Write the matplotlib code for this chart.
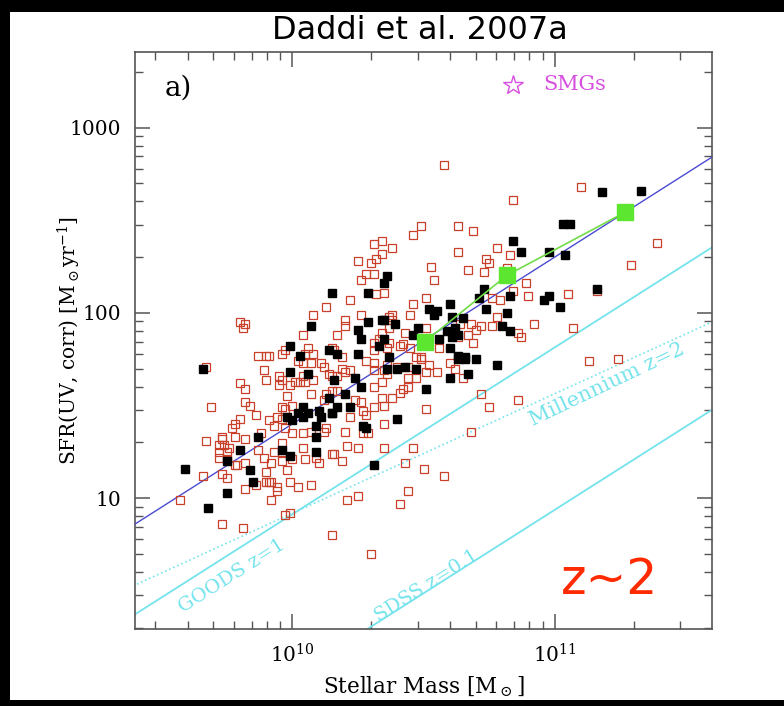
import numpy as np
import matplotlib
matplotlib.use("Agg")
import matplotlib.pyplot as plt
from matplotlib.patches import Rectangle
from matplotlib.ticker import NullFormatter, FixedLocator, FixedFormatter

plt.rcParams['font.family'] = 'DejaVu Serif'
plt.rcParams['mathtext.fontset'] = 'dejavuserif'

# log10 stellar mass [Msun] / log10 SFR [Msun/yr]
logm_red = [10.58, 11.10, 10.84, 10.49, 10.46, 10.63, 10.69, 10.34, 10.31, 10.38,
            10.34, 10.32, 10.30, 10.25, 10.63, 10.78, 10.83, 10.74, 10.75, 11.39,
            10.53, 10.54, 10.67, 10.73, 10.82, 11.29, 10.28, 10.31, 10.26, 10.89,
            9.80, 9.82, 9.81, 10.32, 10.35, 10.22, 10.51, 10.46, 10.76, 10.84,
            10.90, 10.79, 11.05, 11.16, 10.13, 10.08, 10.04, 9.97, 9.96, 10.06,
            10.08, 10.05, 9.87, 9.90, 9.91, 10.15, 10.45, 10.38, 10.38, 10.37,
            10.26, 10.20, 10.20, 10.37, 10.51, 10.43, 10.17, 10.34, 10.33, 10.31,
            10.31, 10.37, 10.36, 10.42, 10.45, 10.41, 10.64, 10.68, 10.70, 10.72,
            10.76, 10.67, 10.69, 10.63, 10.56, 10.19, 10.16, 10.47, 10.49, 10.78,
            10.92, 10.86, 10.87, 11.07, 11.13, 11.24, 9.67, 9.89, 9.90, 9.80,
            9.82, 9.95, 9.96, 9.95, 9.99, 10.01, 10.03, 10.05, 10.04, 10.08,
            10.02, 10.04, 10.07, 10.11, 10.12, 10.14, 10.15, 9.69, 9.82, 9.84,
            9.86, 9.98, 10.07, 10.12, 10.13, 9.96, 9.97, 10.00, 9.94, 9.91,
            9.96, 9.93, 9.80, 9.78, 9.77, 9.97, 10.00, 10.04, 10.07, 10.12,
            10.13, 10.19, 10.22, 10.20, 10.17, 10.28, 10.31, 10.31, 10.34, 10.31,
            10.35, 10.36, 10.36, 10.40, 10.44, 10.49, 10.52, 10.55, 10.51, 10.47,
            10.44, 10.42, 10.44, 10.41, 10.38, 10.34, 10.35, 10.31, 10.26, 10.27,
            10.28, 10.24, 10.17, 10.22, 10.15, 10.60, 10.62, 10.65, 10.72, 10.75,
            10.86, 10.51, 10.68, 10.35, 10.27, 10.29, 10.20, 10.21, 10.25, 10.16,
            10.19, 10.46, 10.35, 10.43, 10.50, 10.58, 10.44, 10.41, 10.21, 10.25,
            10.15, 10.30, 9.67, 9.73, 9.72, 9.73, 9.74, 9.76, 9.75, 9.72,
            9.78, 9.82, 9.88, 9.87, 9.96, 9.96, 9.93, 9.89, 9.92, 9.96,
            10.00, 10.05, 10.04, 10.09, 10.10, 10.15, 9.72, 9.75, 9.78, 9.79,
            9.82, 9.73, 9.75, 9.90, 9.90, 9.91, 9.92, 9.98, 9.99, 10.02,
            10.07, 9.94, 9.94, 9.82, 9.86, 9.66, 9.57, 9.92, 9.97, 9.99,
            9.73, 9.81]
logsfr_red = [2.80, 2.68, 2.61, 2.47, 2.42, 2.47, 2.44, 2.39, 2.37, 2.35,
              2.32, 2.29, 2.27, 2.28, 2.33, 2.35, 2.31, 2.29, 2.27, 2.38,
              2.25, 2.18, 2.23, 2.22, 2.24, 2.26, 2.21, 2.21, 2.18, 2.16,
              1.95, 1.94, 1.92, 2.10, 2.11, 2.07, 2.08, 2.05, 2.08, 2.12,
              2.09, 2.07, 2.10, 2.12, 2.03, 1.99, 1.88, 1.80, 1.78, 1.81,
              1.78, 1.78, 1.77, 1.77, 1.77, 1.81, 1.99, 1.99, 1.96, 1.98,
              1.99, 1.96, 1.93, 1.92, 1.92, 1.89, 1.88, 1.89, 1.86, 1.84,
              1.80, 1.84, 1.81, 1.83, 1.81, 1.82, 1.94, 1.94, 1.91, 1.93,
              1.93, 1.88, 1.84, 1.87, 1.81, 1.76, 1.80, 1.76, 1.76, 1.98,
              1.94, 1.89, 1.87, 1.92, 1.74, 1.75, 1.71, 1.69, 1.64, 1.62,
              1.59, 1.66, 1.64, 1.61, 1.61, 1.63, 1.63, 1.63, 1.66, 1.64,
              1.74, 1.73, 1.73, 1.73, 1.71, 1.67, 1.66, 1.49, 1.52, 1.50,
              1.45, 1.55, 1.56, 1.53, 1.56, 1.49, 1.48, 1.50, 1.44, 1.42,
              1.43, 1.39, 1.43, 1.40, 1.38, 1.38, 1.35, 1.35, 1.36, 1.36,
              1.38, 1.70, 1.69, 1.68, 1.66, 1.74, 1.73, 1.69, 1.63, 1.60,
              1.69, 1.67, 1.72, 1.71, 1.71, 1.75, 1.72, 1.68, 1.68, 1.65,
              1.65, 1.59, 1.60, 1.57, 1.54, 1.54, 1.50, 1.49, 1.52, 1.47,
              1.45, 1.53, 1.58, 1.44, 1.58, 1.73, 1.70, 1.65, 1.56, 1.49,
              1.53, 1.48, 1.36, 1.40, 1.35, 1.35, 1.36, 1.28, 1.27, 1.24,
              1.20, 1.27, 1.27, 1.19, 1.16, 1.12, 1.04, 0.97, 0.99, 1.01,
              0.80, 0.70, 1.31, 1.33, 1.29, 1.32, 1.29, 1.27, 1.25, 1.25,
              1.33, 1.32, 1.35, 1.26, 1.30, 1.25, 1.25, 1.22, 1.19, 1.20,
              1.21, 1.21, 1.27, 1.22, 1.19, 1.24, 1.22, 1.21, 1.18, 1.18,
              1.19, 1.13, 1.11, 1.14, 1.09, 1.09, 1.09, 1.15, 1.09, 1.06,
              1.07, 1.06, 1.04, 1.05, 1.07, 1.12, 0.99, 0.99, 0.91, 0.92,
              0.86, 0.84]

logm_blk = [10.15, 10.07, 9.99, 10.03, 10.14, 10.36, 10.35, 10.29, 10.60, 10.73,
            10.71, 10.74, 10.52, 10.54, 10.55, 10.61, 10.65, 10.34, 10.35, 10.29,
            10.39, 10.48, 10.46, 10.25, 10.26, 10.35, 10.33, 10.56, 10.59, 10.62,
            10.63, 10.61, 10.60, 10.25, 10.17, 10.63, 10.66, 10.37, 11.18, 11.33,
            11.03, 11.06, 10.84, 10.87, 10.98, 11.04, 10.83, 10.96, 10.98, 11.16,
            11.02, 10.82, 10.80, 10.83, 9.66, 9.99, 10.06, 10.14, 10.04, 10.02,
            10.06, 10.10, 10.11, 10.15, 9.98, 10.00, 10.04, 10.09, 10.09, 9.87,
            9.80, 9.96, 9.99, 10.09, 9.75, 9.84, 9.85, 9.59, 9.75, 9.68,
            10.63, 10.66, 10.70, 10.78, 10.60, 10.67, 10.51, 10.40, 10.27, 10.28,
            10.31, 10.16, 10.24, 10.26, 10.20, 10.22, 10.17, 10.15, 10.40, 10.36,
            10.43, 10.47]
logsfr_blk = [2.11, 1.93, 1.82, 1.77, 1.80, 2.20, 2.16, 2.11, 2.05, 2.13,
              2.08, 2.02, 2.02, 1.99, 2.01, 1.98, 1.97, 1.96, 1.96, 1.95,
              1.94, 1.92, 1.88, 1.91, 1.86, 1.86, 1.82, 1.86, 1.90, 1.92,
              1.88, 1.87, 1.81, 1.78, 1.78, 1.77, 1.76, 1.76, 2.65, 2.66,
              2.48, 2.48, 2.39, 2.33, 2.33, 2.31, 2.09, 2.07, 2.09, 2.13,
              2.03, 2.00, 1.93, 1.90, 1.70, 1.68, 1.67, 1.54, 1.49, 1.46,
              1.46, 1.47, 1.44, 1.46, 1.44, 1.42, 1.44, 1.39, 1.33, 1.33,
              1.26, 1.26, 1.23, 1.25, 1.20, 1.15, 1.09, 1.16, 1.03, 0.95,
              1.75, 1.75, 1.75, 1.72, 1.65, 1.67, 1.59, 1.43, 1.39, 1.38,
              1.18, 1.64, 1.65, 1.60, 1.56, 1.49, 1.49, 1.46, 1.70, 1.70,
              1.71, 1.70]

# binned medians
mass_med = [3.2e10, 6.6e10, 1.86e11]
sfr_med = [70, 160, 350]

cyan = '#74e3ec'

fig = plt.figure(figsize=(7.84, 7.06), dpi=100, facecolor='black')
fig.add_artist(Rectangle((0.0128, 0.0085), 1.0, 0.975, transform=fig.transFigure,
                         facecolor='white', edgecolor='none', zorder=0))
ax = fig.add_axes([0.1722, 0.109, 0.736, 0.817])
ax.set_xscale('log')
ax.set_yscale('log')
ax.set_xlim(10**9.4, 10**11.6)
ax.set_ylim(1.97, 2550)

m = np.logspace(9.3, 11.7, 50)
ax.plot(m, 200 * (m / 1e11) ** 0.9, color='#4a4ad0', lw=1.0, zorder=3)
ax.plot(m, 8.2 * (m / 1e10) ** 0.9, color=cyan, lw=1.3, zorder=2)
ax.plot(m, 1.09 * (m / 1e10) ** 0.9, color=cyan, lw=1.3, zorder=2)
ax.plot(m, 8.3 * (m / 1e10) ** 0.645, color=cyan, lw=1.2, ls=':', zorder=2)

ax.plot(10 ** np.array(logm_red), 10 ** np.array(logsfr_red), 's', ms=5.8,
        mfc='none', mec='#c8402a', mew=0.9, zorder=4)
ax.plot(10 ** np.array(logm_blk), 10 ** np.array(logsfr_blk), 's', ms=6.0,
        color='black', zorder=5)
ax.plot(mass_med, sfr_med, '-', color='#72dc48', lw=1.2, zorder=6)
ax.plot(mass_med, sfr_med, 's', ms=11, color='#5de630', zorder=7)

ax.text(0.168, 0.092, 'GOODS z=1', transform=ax.transAxes, color=cyan,
        fontsize=14, rotation=32.4, ha='center', va='center', rotation_mode='anchor')
ax.text(0.506, 0.075, 'SDSS z=0.1', transform=ax.transAxes, color=cyan,
        fontsize=14, rotation=32.4, ha='center', va='center', rotation_mode='anchor')
ax.text(0.818, 0.424, 'Millennium z=2', transform=ax.transAxes, color=cyan,
        fontsize=15, rotation=25.5, ha='center', va='center', rotation_mode='anchor')
ax.text(0.823, 0.085, 'z~2', transform=ax.transAxes, color='#ff2a00',
        fontsize=35, family='DejaVu Sans', ha='center', va='center')
ax.text(0.052, 0.938, 'a)', transform=ax.transAxes, fontsize=20, va='center')
ax.plot([0.655], [0.944], marker='*', ms=15, mfc='none', mec='#d64fe0', mew=1.0,
        transform=ax.transAxes)
ax.text(0.708, 0.944, 'SMGs', transform=ax.transAxes, color='#d64fe0',
        fontsize=15, va='center')

ax.xaxis.set_major_locator(FixedLocator([1e10, 1e11]))
ax.xaxis.set_major_formatter(FixedFormatter(['$10^{10}$', '$10^{11}$']))
ax.xaxis.set_minor_formatter(NullFormatter())
ax.yaxis.set_major_locator(FixedLocator([10, 100, 1000]))
ax.yaxis.set_major_formatter(FixedFormatter(['10', '100', '1000']))
ax.yaxis.set_minor_formatter(NullFormatter())
ax.tick_params(which='both', direction='in', top=True, right=True, color='#555555')
ax.tick_params(which='major', length=11, width=1.1, labelsize=14.5, pad=10)
ax.tick_params(which='minor', length=5.5, width=1.0)
for s in ax.spines.values():
    s.set_color('#555555')
    s.set_linewidth(1.2)

ax.set_xlabel(r'Stellar Mass [M$_\odot$]', fontsize=15.5, labelpad=6)
ax.set_ylabel(r'SFR(UV, corr) [M$_\odot$yr$^{-1}$]', fontsize=14.5)
ax.yaxis.set_label_coords(-0.09, 0.5)
fig.text(0.536, 0.957, 'Daddi et al. 2007a', family='DejaVu Sans', fontsize=23,
         ha='center', va='center', color='black')

fig.savefig('out.png', dpi=100, facecolor='black')
